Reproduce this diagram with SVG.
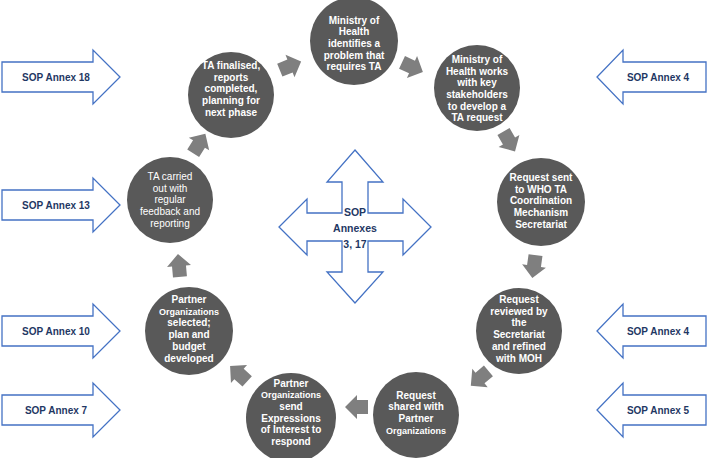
<svg xmlns="http://www.w3.org/2000/svg" width="708" height="458" viewBox="0 0 708 458">
<style>
.bg{fill:#ffffff}
.node circle{fill:#595959}
.nt{font-family:"Liberation Sans",Arial,sans-serif;font-size:10px;font-weight:bold;fill:#ffffff;text-anchor:middle}
.nr{font-weight:normal}
.sm{font-size:9px}
.flow{fill:#7f7f7f}
.sop path{fill:#ffffff;stroke:#4472c4;stroke-width:1.3;stroke-linejoin:miter}
.st{font-family:"Liberation Sans",Arial,sans-serif;font-size:10px;font-weight:bold;fill:#1f3864;text-anchor:middle}
.ct{font-family:"Liberation Sans",Arial,sans-serif;font-size:10.5px;font-weight:bold;fill:#1f3864;text-anchor:middle}
</style>
<defs>
<path id="blk" d="M-11,-7 L0,-7 L0,-12 L12,0 L0,12 L0,7 L-11,7 Z"/>
</defs>
<rect class="bg" x="0" y="0" width="708" height="458"/>

<g id="connectors">
<use href="#blk" class="flow" transform="translate(290,66) rotate(-22)"/>
<use href="#blk" class="flow" transform="translate(412,67) rotate(25)"/>
<use href="#blk" class="flow" transform="translate(509,141) rotate(60)"/>
<use href="#blk" class="flow" transform="translate(534,266) rotate(98)"/>
<use href="#blk" class="flow" transform="translate(480,378) rotate(140)"/>
<use href="#blk" class="flow" transform="translate(357,407) rotate(180)"/>
<use href="#blk" class="flow" transform="translate(239,374) rotate(222)"/>
<use href="#blk" class="flow" transform="translate(179,266) rotate(-95)"/>
<use href="#blk" class="flow" transform="translate(199,144) rotate(-58)"/>
</g>

<g id="n1" class="node"><circle cx="354" cy="41" r="44"/>
<text class="nt" x="354" y="23.5">Ministry of<tspan x="354" dy="11.7">Health</tspan><tspan x="354" dy="11.7">identifies a</tspan><tspan x="354" dy="11.7">problem that</tspan><tspan x="354" dy="11.7">requires TA</tspan></text></g>

<g id="n2" class="node"><circle cx="231" cy="95" r="43"/>
<text class="nt" x="231" y="69">TA finalised,<tspan x="231" dy="11.7">reports</tspan><tspan x="231" dy="11.7">completed,</tspan><tspan x="231" dy="11.7">planning for</tspan><tspan x="231" dy="11.7">next phase</tspan></text></g>

<g id="n3" class="node"><circle cx="477" cy="88" r="43"/>
<text class="nt" x="477" y="62.8">Ministry of<tspan x="477" dy="11.7">Health works</tspan><tspan x="477" dy="11.7">with key</tspan><tspan x="477" dy="11.7">stakeholders</tspan><tspan x="477" dy="11.7">to develop a</tspan><tspan x="477" dy="11.7">TA request</tspan></text></g>

<g id="n4" class="node"><circle cx="541" cy="202" r="44"/>
<text class="nt" x="541" y="181">Request sent<tspan x="541" dy="11.7">to WHO TA</tspan><tspan x="541" dy="11.7">Coordination</tspan><tspan x="541" dy="11.7">Mechanism</tspan><tspan x="541" dy="11.7">Secretariat</tspan></text></g>

<g id="n5" class="node"><circle cx="519" cy="331" r="43"/>
<text class="nt" x="519" y="303">Request<tspan x="519" dy="11.7">reviewed by</tspan><tspan x="519" dy="11.7">the</tspan><tspan x="519" dy="11.7">Secretariat</tspan><tspan x="519" dy="11.7">and refined</tspan><tspan x="519" dy="11.7">with MOH</tspan></text></g>

<g id="n6" class="node"><circle cx="416" cy="415" r="43"/>
<text class="nt" x="416" y="398.5">Request<tspan x="416" dy="11.7">shared with</tspan><tspan x="416" dy="11.7">Partner</tspan><tspan class="sm" x="416" dy="11.7">Organizations</tspan></text></g>

<g id="n7" class="node"><circle cx="291" cy="418" r="45"/>
<text class="nt" x="291" y="386.5">Partner<tspan class="sm" x="291" dy="11.7">Organizations</tspan><tspan x="291" dy="11.7">send</tspan><tspan x="291" dy="11.7">Expressions</tspan><tspan x="291" dy="11.7">of Interest to</tspan><tspan x="291" dy="11.7">respond</tspan></text></g>

<g id="n8" class="node"><circle cx="189" cy="331" r="44"/>
<text class="nt" x="189" y="303">Partner<tspan class="sm" x="189" dy="11.7">Organizations</tspan><tspan x="189" dy="11.7">selected;</tspan><tspan x="189" dy="11.7">plan and</tspan><tspan x="189" dy="11.7">budget</tspan><tspan x="189" dy="11.7">developed</tspan></text></g>

<g id="n9" class="node"><circle cx="170" cy="200" r="43"/>
<text class="nt nr" x="170" y="180">TA carried<tspan x="170" dy="11.7">out with</tspan><tspan x="170" dy="11.7">regular</tspan><tspan x="170" dy="11.7">feedback and</tspan><tspan x="170" dy="11.7">reporting</tspan></text></g>

<g id="center" class="sop">
<path d="M355,150 L383,182 L368,182 L368,213 L403,213 L403,199 L431,227 L403,255 L403,241 L368,241 L368,272 L383,272 L355,303 L327,272 L342,272 L342,241 L307,241 L307,255 L279,227 L307,199 L307,213 L342,213 L342,182 L327,182 Z"/>
<text class="ct" x="355" y="216">SOP<tspan x="355" dy="16">Annexes</tspan><tspan x="355" dy="16">3, 17</tspan></text>
</g>

<g id="sop18" class="sop"><path d="M2,62 L93,62 L93,50 L120,77 L93,104 L93,92 L2,92 Z"/><text class="st" x="56" y="81">SOP Annex 18</text></g>
<g id="sop13" class="sop"><path d="M2,190 L93,190 L93,178 L120,205 L93,232 L93,220 L2,220 Z"/><text class="st" x="56" y="209">SOP Annex 13</text></g>
<g id="sop10" class="sop"><path d="M2,316 L93,316 L93,304 L120,331 L93,358 L93,346 L2,346 Z"/><text class="st" x="56" y="335">SOP Annex 10</text></g>
<g id="sop7" class="sop"><path d="M2,395 L93,395 L93,383 L120,410 L93,437 L93,425 L2,425 Z"/><text class="st" x="56" y="414">SOP Annex 7</text></g>

<g id="sop4a" class="sop"><path d="M706,62 L623,62 L623,50 L597,77 L623,104 L623,92 L706,92 Z"/><text class="st" x="658" y="81">SOP Annex 4</text></g>
<g id="sop4b" class="sop"><path d="M706,316 L623,316 L623,304 L597,331 L623,358 L623,346 L706,346 Z"/><text class="st" x="658" y="335">SOP Annex 4</text></g>
<g id="sop5" class="sop"><path d="M706,395 L623,395 L623,383 L597,410 L623,437 L623,425 L706,425 Z"/><text class="st" x="658" y="414">SOP Annex 5</text></g>
</svg>
